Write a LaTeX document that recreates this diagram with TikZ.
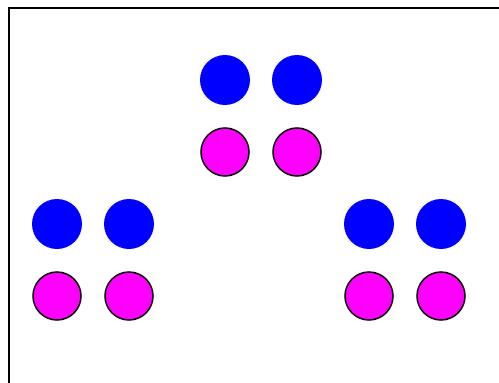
\documentclass[tikz,border=0pt]{standalone}
\definecolor{puremag}{RGB}{255,0,255}
\definecolor{pureblue}{RGB}{0,0,255}
\begin{document}
\begin{tikzpicture}[x=1pt,y=-1pt,
  bluedot/.style={circle,fill=pureblue,inner sep=0pt,minimum size=50pt},
  magdot/.style={circle,fill=puremag,draw=black,line width=1.5pt,inner sep=0pt,minimum size=48pt}]
\useasboundingbox (0,0) rectangle (499,383);
\clip (0,0) rectangle (499,383);
\draw[line width=2pt] (8.75,8.25) rectangle (540,420);
% top group
\node[bluedot] (tb1) at (225,80) {};
\node[bluedot] (tb2) at (297,80) {};
\node[magdot] (tm1) at (225,152) {};
\node[magdot] (tm2) at (297,152) {};
% left group
\node[bluedot] (lb1) at (57,224) {};
\node[bluedot] (lb2) at (129,224) {};
\node[magdot] (lm1) at (57,296) {};
\node[magdot] (lm2) at (129,296) {};
% right group
\node[bluedot] (rb1) at (369,224) {};
\node[bluedot] (rb2) at (441,224) {};
\node[magdot] (rm1) at (369,296) {};
\node[magdot] (rm2) at (441,296) {};
\end{tikzpicture}
\end{document}
